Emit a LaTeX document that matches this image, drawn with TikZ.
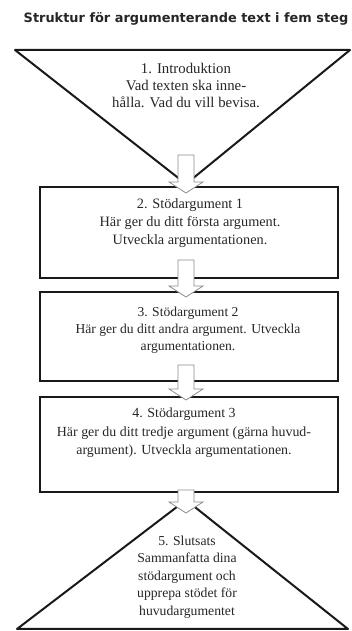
\documentclass[tikz,border=0pt]{standalone}
\usepackage{fontspec}
\setmainfont{Liberation Serif}
\newfontfamily\titlefont{DejaVu Sans}
\usetikzlibrary{calc}
\newcommand\hollowarrow[2]{\draw[blk] let \p1=(#1), \p2=(#2) in (\x1-8pt,\y1) -- (\x1+8pt,\y1) -- (\x1+8pt,\y2+11pt) -- (\x1+17pt,\y2+11pt) -- (\x2,\y2) -- (\x1-17pt,\y2+11pt) -- (\x1-8pt,\y2+11pt) -- cycle;}
\begin{document}
\begin{tikzpicture}[x=1pt,y=1pt,
  tri/.style={draw=black!90,line width=2pt,line join=round},
  stepbox/.style={draw=black!90,line width=2.6pt,minimum width=298pt,inner sep=0pt},
  blk/.style={draw=black!45,fill=white,line width=0.8pt},
  txt/.style={align=center,text=black!85,inner sep=0pt},
  ttl/.style={font=\titlefont\bfseries\fontsize{12.9}{15}\selectfont,text=black!85,inner sep=0pt}]
\useasboundingbox (0,0) rectangle (351,631);
\node[ttl] (title) at (186,612) {Struktur för argumenterande text i fem steg};
% top triangle
\coordinate (t1l) at (15,581);
\coordinate (t1r) at (350,581);
\coordinate (t1a) at (186,447);
\draw[tri] (t1l) -- (t1r) -- (t1a) -- cycle;
% boxes
\node[stepbox,minimum height=91pt] (b2) at (189,398.5) {};
\node[stepbox,minimum height=89pt] (b3) at (189,294.5) {};
\node[stepbox,minimum height=95pt] (b4) at (189,186.5) {};
% bottom triangle
\coordinate (t5a) at (186,131);
\coordinate (t5l) at (17,2);
\coordinate (t5r) at (348,2);
\draw[tri] (t5l) -- (t5a) -- (t5r) -- cycle;
% texts
\node[txt,font=\fontsize{14.8}{17}\selectfont] (x1) at (186,546) {1. Introduktion\\Vad texten ska inne-\\hålla. Vad du vill bevisa.};
\node[txt,font=\fontsize{14.3}{18}\selectfont] (x2) at (190,407.5) {2. Stödargument 1\\Här ger du ditt första argument.\\Utveckla argumentationen.};
\node[txt,font=\fontsize{13.6}{17}\selectfont] (x3) at (188,301) {3. Stödargument 2\\Här ger du ditt andra argument. Utveckla\\argumentationen.};
\node[txt,font=\fontsize{13.9}{18.5}\selectfont] (x4) at (184,198) {4. Stödargument 3\\Här ger du ditt tredje argument (gärna huvud-\\argument). Utveckla argumentationen.};
\node[txt,font=\fontsize{13.7}{17.5}\selectfont] (x5) at (187,54) {5. Slutsats\\Sammanfatta dina\\stödargument och\\upprepa stödet för\\huvudargumentet};
% arrows
\coordinate (a1s) at (186,476); \coordinate (a1e) at (186,438);
\coordinate (a2s) at (186,371); \coordinate (a2e) at (186,334);
\coordinate (a3s) at (186,266); \coordinate (a3e) at (186,231);
\coordinate (a4s) at (186,141); \coordinate (a4e) at (186,118);
\hollowarrow{a1s}{a1e}
\hollowarrow{a2s}{a2e}
\hollowarrow{a3s}{a3e}
\hollowarrow{a4s}{a4e}
\end{tikzpicture}
\end{document}
